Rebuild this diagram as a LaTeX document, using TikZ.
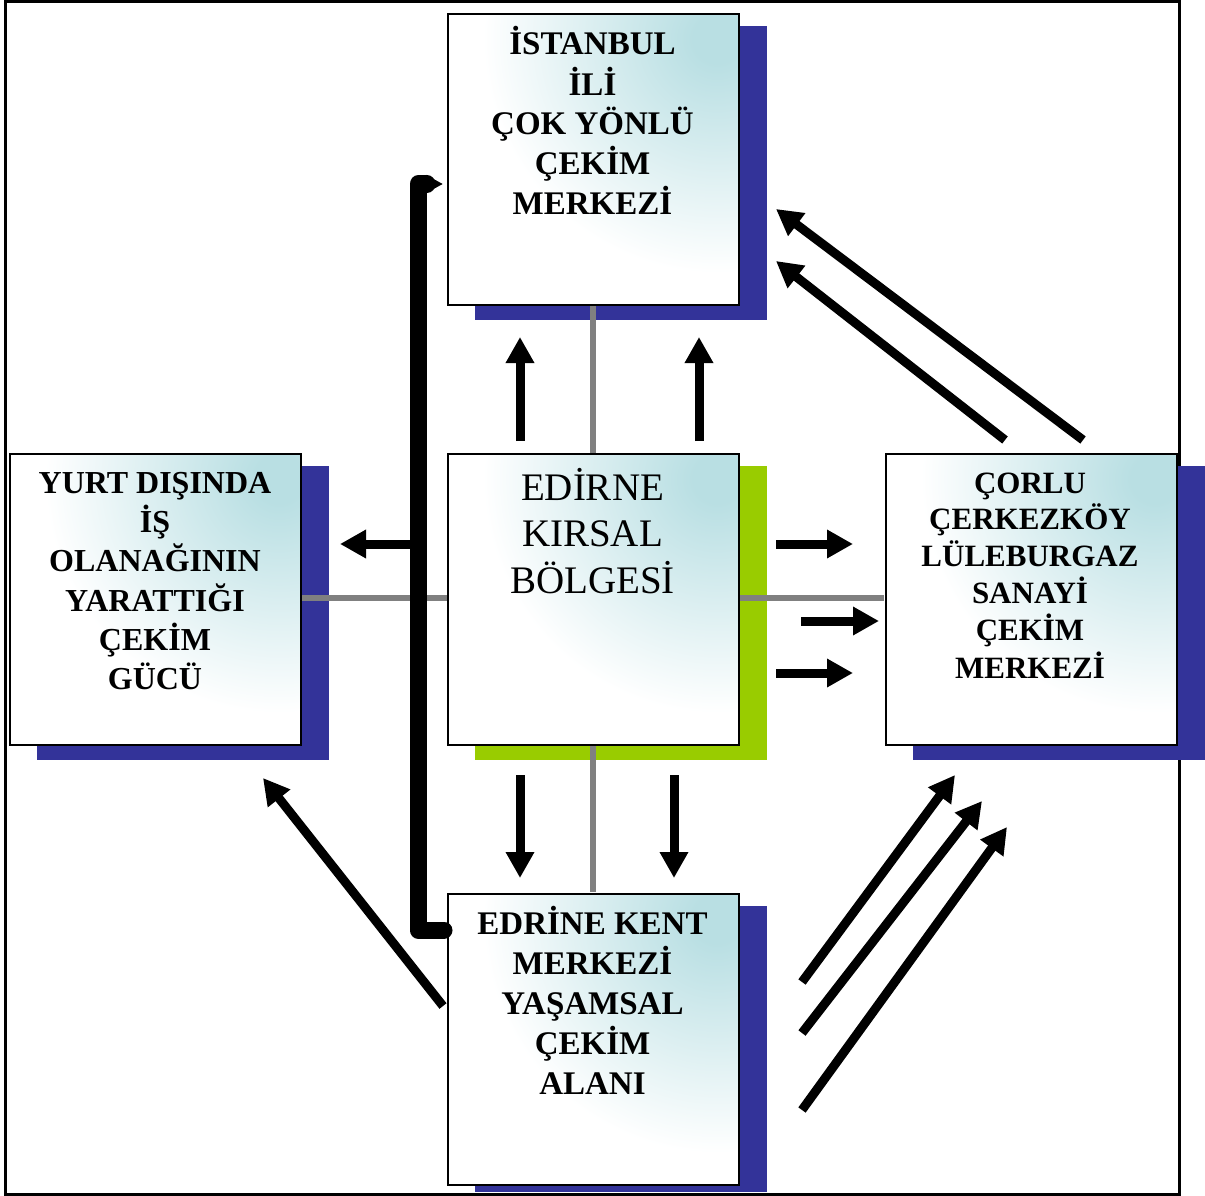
\documentclass[tikz,border=0pt]{standalone}
\usepackage{fontspec}
\setmainfont{Liberation Serif}
\usetikzlibrary{arrows.meta}
\definecolor{shblue}{RGB}{51,51,153}
\definecolor{shgreen}{RGB}{153,204,0}
\definecolor{boxteal}{RGB}{185,223,227}
\definecolor{gline}{RGB}{128,128,128}
\pgfdeclareradialshading{cornershade}{\pgfpointorigin}{color(0bp)=(boxteal); color(2bp)=(boxteal); color(19.5bp)=(white); color(50bp)=(white)}
\begin{document}
\begin{tikzpicture}[x=1pt,y=-1pt,
  box/.style={draw=black, line width=2pt, fill=white, minimum width=291pt, minimum height=291pt, inner sep=0pt, anchor=north west,
    path picture={
      \coordinate (pc) at ([xshift=-22pt,yshift=-25pt]path picture bounding box.north east);
      \shade[shading=cornershade] ([xshift=-300pt,yshift=-300pt]pc) rectangle ([xshift=300pt,yshift=300pt]pc);
    }},
  shadowbox/.style={draw=none, minimum width=292pt, minimum height=294pt, inner sep=0pt, anchor=north west},
  boldtext/.style={inner sep=0pt, anchor=base, font=\bfseries},
  gl/.style={draw=gline, line width=6pt},
  arr/.style={line width=9pt, -{Triangle[length=26pt,width=27pt]}},
  bar/.style={line width=17pt, line cap=round, line join=round, -{Triangle[length=17pt,width=17pt]}}]
\useasboundingbox (0,0) rectangle (1205,1196);
% outer frame
\draw[line width=3pt] (5,2) rectangle (1179,1194);
% shadows
\node[shadowbox, fill=shblue] (sTop) at (475,26) {};
\node[shadowbox, fill=shblue] (sLeft) at (37,466) {};
\node[shadowbox, fill=shblue] (sRight) at (913,466) {};
\node[shadowbox, fill=shblue, minimum height=286pt] (sBot) at (475,906) {};
\node[shadowbox, fill=shgreen] (sCen) at (475,466) {};
% grey connecting lines
\coordinate (topS) at (593,305);
\coordinate (botN) at (593,892);
\coordinate (leftE) at (301,598);
\coordinate (rightW) at (884,598);
\draw[gl] (topS) -- (botN);
\draw[gl] (leftE) -- (rightW);
% boxes
\node[box] (top) at (447,13) {};
\node[box] (left) at (9,453) {};
\node[box] (right) at (885,453) {};
\node[box] (bot) at (447,893) {};
\node[box] (cen) at (447,453) {};
% texts
\node[boldtext, font=\bfseries\fontsize{33}{39.5}\selectfont] (tTop) at (592.5,55)
  {\begin{tabular}[t]{@{}c@{}}İSTANBUL\\İLİ\\ÇOK YÖNLÜ\\ÇEKİM\\MERKEZİ\end{tabular}};
\node[boldtext, font=\bfseries\fontsize{32}{39}\selectfont] (tLeft) at (155,493)
  {\begin{tabular}[t]{@{}c@{}}YURT DIŞINDA\\İŞ\\OLANAĞININ\\YARATTIĞI\\ÇEKİM\\GÜCÜ\end{tabular}};
\node[boldtext, font=\bfseries\fontsize{31}{36}\selectfont] (tRight) at (1030,493)
  {\begin{tabular}[t]{@{}c@{}}ÇORLU\\ÇERKEZKÖY\\LÜLEBURGAZ\\SANAYİ\\ÇEKİM\\MERKEZİ\end{tabular}};
\node[boldtext, font=\bfseries\fontsize{33}{39.8}\selectfont] (tBot) at (592.5,934)
  {\begin{tabular}[t]{@{}c@{}}EDRİNE KENT\\MERKEZİ\\YAŞAMSAL\\ÇEKİM\\ALANI\end{tabular}};
\node[inner sep=0pt, anchor=base, font=\fontsize{39}{46.5}\selectfont] (tCen) at (592.5,500)
  {\begin{tabular}[t]{@{}c@{}}EDİRNE\\KIRSAL\\BÖLGESİ\end{tabular}};
% arrow end points
\coordinate (u1s) at (520,441); \coordinate (u1e) at (520,337);
\coordinate (u2s) at (699,441); \coordinate (u2e) at (699,337);
\coordinate (d1s) at (520,775); \coordinate (d1e) at (520,878);
\coordinate (d2s) at (674,775); \coordinate (d2e) at (674,878);
\coordinate (ls) at (410,544); \coordinate (le) at (340,544);
\coordinate (r1s) at (776,544); \coordinate (r1e) at (853,544);
\coordinate (r2s) at (801,621); \coordinate (r2e) at (879,621);
\coordinate (r3s) at (776,673); \coordinate (r3e) at (853,673);
\coordinate (ul1s) at (1083,440); \coordinate (ul1e) at (776,209);
\coordinate (ul2s) at (1005,440); \coordinate (ul2e) at (776,261);
\coordinate (lls) at (443,1006); \coordinate (lle) at (263,778);
\coordinate (lr1s) at (802,982); \coordinate (lr1e) at (955,775);
\coordinate (lr2s) at (802,1033); \coordinate (lr2e) at (982,801);
\coordinate (lr3s) at (802,1110); \coordinate (lr3e) at (1007,827);
\coordinate (bA) at (444,930); \coordinate (bB) at (418,930);
\coordinate (bC) at (418,184); \coordinate (bD) at (443,184);
% arrows
\draw[arr] (u1s) -- (u1e);
\draw[arr] (u2s) -- (u2e);
\draw[arr] (d1s) -- (d1e);
\draw[arr] (d2s) -- (d2e);
\draw[arr] (ls) -- (le);
\draw[arr] (r1s) -- (r1e);
\draw[arr] (r2s) -- (r2e);
\draw[arr] (r3s) -- (r3e);
\draw[arr] (ul1s) -- (ul1e);
\draw[arr] (ul2s) -- (ul2e);
\draw[arr] (lls) -- (lle);
\draw[arr] (lr1s) -- (lr1e);
\draw[arr] (lr2s) -- (lr2e);
\draw[arr] (lr3s) -- (lr3e);
\draw[bar] (bA) -- (bB) -- (bC) -- (bD);
\end{tikzpicture}
\end{document}
